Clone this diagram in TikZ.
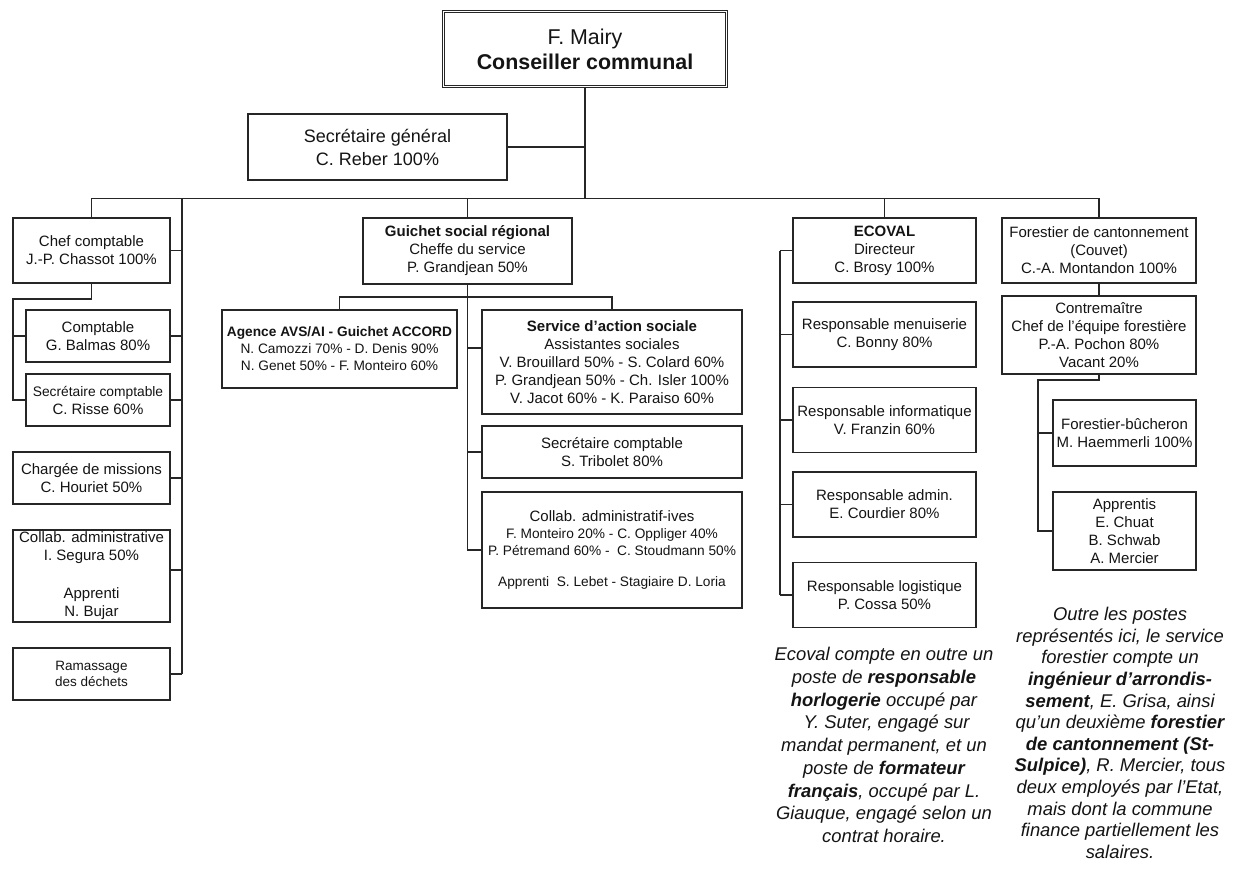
\documentclass[tikz,border=0pt]{standalone}
\usepackage{fontspec}
\setmainfont{Liberation Sans}
\begin{document}
\begin{tikzpicture}[x=1pt,y=-1pt,
  box/.style={draw=black!85, line width=1.25pt, rectangle, inner sep=0pt,
    align=center, text=black!92, font=\fontsize{15}{18}\selectfont},
  small/.style={font=\fontsize{13.7}{17}\selectfont},
  wire/.style={draw=black!85, line width=1.25pt},
  note/.style={align=center, inner sep=0pt, text=black!92,
    font=\fontsize{18.4}{22.75}\selectfont\itshape}]

\fill[white] (0,0) rectangle (1238,868);
\useasboundingbox (0,0) rectangle (1238,868);

% ---- head of the department
\node[box, double, double distance=1.6pt, line width=0.8pt,
  minimum width=283pt, minimum height=75pt,
  font=\fontsize{21.4}{25}\selectfont] (mairy) at (585,49)
  {F. Mairy\\\textbf{Conseiller communal}};
\node[box, minimum width=259pt, minimum height=66pt,
  font=\fontsize{18}{23}\selectfont] (secgen) at (377.5,147)
  {Secrétaire général\\C. Reber 100\%};

% ---- left column
\node[box, minimum width=157pt, minimum height=65pt] (chef) at (91.5,250.5)
  {Chef comptable\\J.-P. Chassot 100\%};
\node[box, minimum width=144pt, minimum height=52pt] (comptable) at (98,336)
  {Comptable\\G. Balmas 80\%};
\node[box, minimum width=144pt, minimum height=52pt] (seccpt) at (98,400)
  {{\fontsize{13.8}{18}\selectfont Secrétaire comptable}\\C. Risse 60\%};
\node[box, minimum width=157pt, minimum height=52pt] (charge) at (91.5,478)
  {Chargée de missions\\C. Houriet 50\%};
\node[box, minimum width=157pt, minimum height=92pt] (collabL) at (91.5,576)
  {Collab. administrative\\I. Segura 50\%\\[20pt]Apprenti\\N. Bujar};
\node[box, minimum width=157pt, minimum height=52pt,
  font=\fontsize{13.5}{16}\selectfont] (ramassage) at (91.5,674)
  {Ramassage\\des déchets};

% ---- social services
\node[box, minimum width=209pt, minimum height=66pt] (guichet) at (467.5,251)
  {\textbf{Guichet social régional}\\Cheffe du service\\P. Grandjean 50\%};
\node[box, small, minimum width=235pt, minimum height=78pt] (agence) at (339.5,349)
  {\textbf{Agence AVS/AI - Guichet ACCORD}\\N. Camozzi 70\% - D. Denis 90\%\\N. Genet 50\% - F. Monteiro 60\%};
\node[box, minimum width=260pt, minimum height=104pt] (service) at (612,362)
  {\textbf{Service d'action sociale}\\Assistantes sociales\\V. Brouillard 50\% - S. Colard 60\%\\P. Grandjean 50\% - Ch. Isler 100\%\\V. Jacot 60\% - K. Paraiso 60\%};
\node[box, minimum width=260pt, minimum height=52pt] (seccptM) at (612,452)
  {Secrétaire comptable\\S. Tribolet 80\%};
\node[box, small, minimum width=260pt, minimum height=116pt] (collabM) at (612,550)
  {{\fontsize{15}{17}\selectfont Collab. administratif-ives}\\F. Monteiro 20\% - C. Oppliger 40\%\\P. Pétremand 60\% -\ \ C. Stoudmann 50\%\\[14pt]Apprenti\ \ S. Lebet - Stagiaire D. Loria};

% ---- ECOVAL
\node[box, minimum width=183pt, minimum height=65pt] (ecoval) at (884.5,250.5)
  {\textbf{ECOVAL}\\Directeur\\C. Brosy 100\%};
\node[box, minimum width=183pt, minimum height=65pt] (menuis) at (884.5,334.5)
  {Responsable menuiserie\\C. Bonny 80\%};
\node[box, minimum width=183pt, minimum height=65pt] (info) at (884.5,420)
  {Responsable informatique\\V. Franzin 60\%};
\node[box, minimum width=183pt, minimum height=65pt] (admin) at (884.5,504.5)
  {Responsable admin.\\E. Courdier 80\%};
\node[box, minimum width=183pt, minimum height=65pt] (logist) at (884.5,595)
  {Responsable logistique\\P. Cossa 50\%};

% ---- forestry
\node[box, minimum width=194pt, minimum height=65pt] (forest) at (1099,250.5)
  {Forestier de cantonnement\\(Couvet)\\C.-A. Montandon 100\%};
\node[box, minimum width=194pt, minimum height=78pt] (contre) at (1099,335)
  {Contremaître\\Chef de l'équipe forestière\\P.-A. Pochon 80\%\\Vacant 20\%};
\node[box, minimum width=143pt, minimum height=66pt] (bucheron) at (1124.5,433)
  {Forestier-bûcheron\\M. Haemmerli 100\%};
\node[box, minimum width=143pt, minimum height=78pt] (apprentis) at (1124.5,531)
  {Apprentis\\E. Chuat\\B. Schwab\\A. Mercier};

% ---- side notes
\node[note] (ecnote) at (884,745)
  {Ecoval compte en outre un\\poste de \textbf{responsable}\\\textbf{horlogerie} occupé par\\\ Y. Suter, engagé sur\\mandat permanent, et un\\poste de \textbf{formateur}\\\textbf{français}, occupé par L.\\Giauque, engagé selon un\\contrat horaire.};
\node[note, font=\fontsize{18.4}{21.6}\selectfont\itshape] (fonote) at (1120,733)
  {Outre les postes\\représentés ici, le service\\forestier compte un\\\textbf{ingénieur d’arrondis-}\\\textbf{sement}, E. Grisa, ainsi\\qu’un deuxième \textbf{forestier}\\\textbf{de cantonnement (St-}\\\textbf{Sulpice)}, R. Mercier, tous\\deux employés par l’Etat,\\mais dont la commune\\finance partiellement les\\salaires.};

% ---- connectors
\coordinate (bus) at (0,198.5);
\coordinate (lspine) at (182,0);
\coordinate (cspine) at (13,299);
\coordinate (gbar) at (0,297);
\coordinate (espine) at (780,0);
\coordinate (fspine) at (1038,380);

\draw[wire] (chef.north) -- (chef.north |- bus) -- (forest.north |- bus) -- (forest.north);
\draw[wire] (mairy.south) -- (mairy.south |- bus);
\draw[wire] (secgen.east) -- (secgen.east -| mairy.south);
\draw[wire] (guichet.north) -- (guichet.north |- bus);
\draw[wire] (ecoval.north) -- (ecoval.north |- bus);

% left column
\draw[wire] (lspine |- bus) -- (lspine |- ramassage.east);
\draw[wire] (chef.east) -- (chef.east -| lspine);
\draw[wire] (comptable.east) -- (comptable.east -| lspine);
\draw[wire] (seccpt.east) -- (seccpt.east -| lspine);
\draw[wire] (charge.east) -- (charge.east -| lspine);
\draw[wire] ([yshift=6pt]collabL.east) -- ([yshift=6pt]collabL.east -| lspine);
\draw[wire] (ramassage.east) -- (ramassage.east -| lspine);
\draw[wire] (chef.south) -- (chef.south |- cspine) -- (cspine) -- (cspine |- seccpt.west) -- (seccpt.west);
\draw[wire] (comptable.west -| cspine) -- (comptable.west);

% social services
\draw[wire] (agence.north) -- (agence.north |- gbar) -- (service.north |- gbar) -- (service.north);
\draw[wire] (guichet.south) -- (guichet.south |- collabM.west) -- (collabM.west);
\draw[wire] ([yshift=14pt]service.west -| guichet.south) -- ([yshift=14pt]service.west);
\draw[wire] (seccptM.west -| guichet.south) -- (seccptM.west);

% ECOVAL
\draw[wire] (ecoval.west -| espine) -- (logist.west -| espine);
\draw[wire] (ecoval.west) -- (ecoval.west -| espine);
\draw[wire] (menuis.west) -- (menuis.west -| espine);
\draw[wire] (info.west) -- (info.west -| espine);
\draw[wire] (admin.west) -- (admin.west -| espine);
\draw[wire] (logist.west) -- (logist.west -| espine);

% forestry
\draw[wire] (forest.south) -- (contre.north);
\draw[wire] (contre.south) -- (contre.south |- fspine) -- (fspine) -- (fspine |- apprentis.west) -- (apprentis.west);
\draw[wire] (bucheron.west -| fspine) -- (bucheron.west);

\end{tikzpicture}
\end{document}
